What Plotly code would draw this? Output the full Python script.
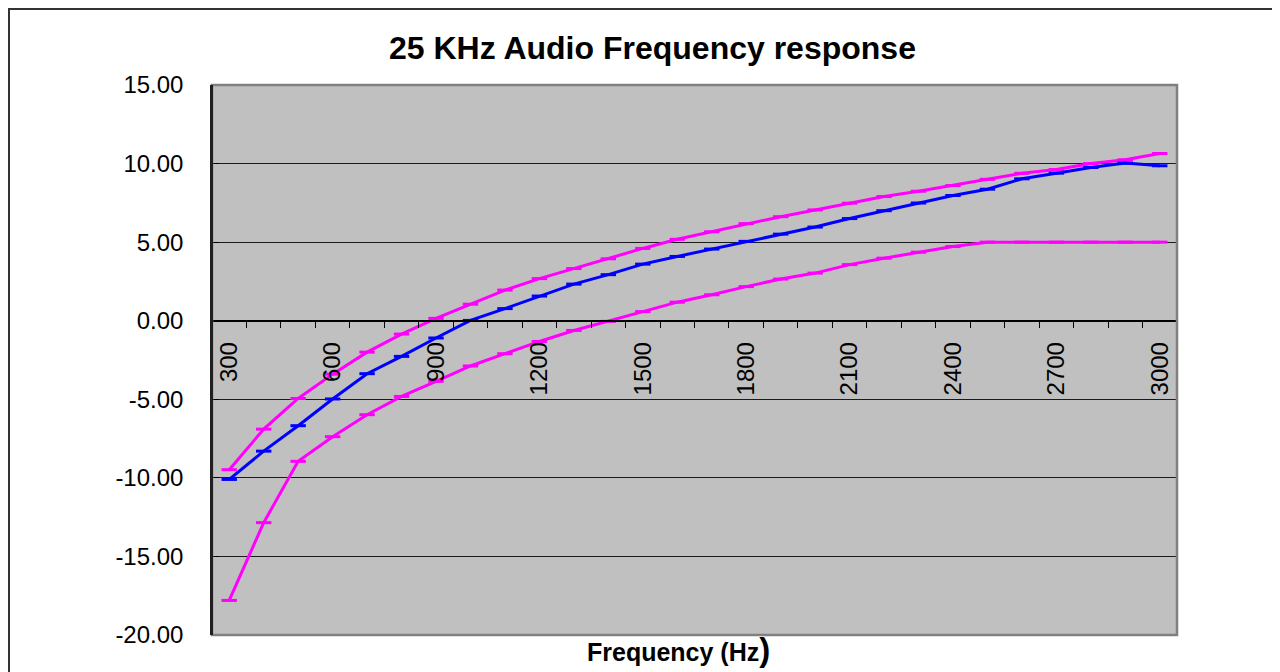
import plotly.graph_objects as go

freq = list(range(300, 3001, 100))

upper_limit = [-9.48, -6.90, -4.95, -3.40, -2.00, -0.85, 0.15, 1.05, 1.95, 2.68,
               3.32, 3.94, 4.60, 5.18, 5.66, 6.18, 6.62, 7.05, 7.48, 7.90,
               8.24, 8.60, 9.00, 9.38, 9.62, 10.00, 10.24, 10.64]

measured = [-10.10, -8.30, -6.68, -4.98, -3.37, -2.27, -1.10, 0.02, 0.77, 1.57,
            2.33, 2.93, 3.60, 4.09, 4.56, 5.05, 5.51, 5.96, 6.50, 7.00,
            7.49, 7.97, 8.37, 9.03, 9.39, 9.75, 10.03, 9.86]

lower_limit = [-17.80, -12.85, -8.95, -7.38, -5.98, -4.82, -3.86, -2.88, -2.10, -1.32,
               -0.62, -0.04, 0.58, 1.18, 1.65, 2.17, 2.65, 3.03, 3.57, 3.98,
               4.36, 4.72, 5.00, 5.00, 5.00, 5.00, 5.00, 5.00]

x_tick_values = list(range(300, 3001, 300))
x_tick_labels = [str(v) for v in x_tick_values]
y_tick_values = [15, 10, 5, 0, -5, -10, -15, -20]
y_tick_labels = ["15.00", "10.00", "5.00", "0.00", "-5.00", "-10.00", "-15.00", "-20.00"]

W, H = 1280, 672
OFF = 8  # page offset of the figure inside the browser page
L, T = 212 - OFF, 85 - OFF
R = W - (1177 - OFF)
B = H - (635 - OFF)
pw, ph = W - L - R, H - T - B
y_min, y_max = -20, 15
FONT = "Arial, Liberation Sans, sans-serif"

def px_x(page_x):
    return (page_x - OFF - L) / pw

def px_y(page_y):
    return (H - B - (page_y - OFF)) / ph

fig = go.Figure()

def add_series(y, color):
    fig.add_trace(go.Scatter(
        x=freq, y=y, mode="lines+markers",
        line=dict(color=color, width=3),
        marker=dict(symbol="line-ew", size=11, line=dict(color=color, width=3), color=color),
        showlegend=False, hoverinfo="x+y",
    ))

add_series(upper_limit, "#FF00FF")
add_series(lower_limit, "#FF00FF")
add_series(measured, "#0000FF")

fig.update_layout(
    width=W, height=H,
    margin=dict(l=L, r=R, t=T, b=B),
    paper_bgcolor="white",
    plot_bgcolor="#C0C0C0",
    font=dict(family=FONT, color="black"),
    showlegend=False,
)

fig.update_yaxes(
    range=[y_min, y_max],
    tickvals=y_tick_values, ticktext=y_tick_labels,
    showgrid=True, gridcolor="#1a1a1a", gridwidth=1,
    showline=True, linecolor="#000000", linewidth=1.5,
    ticks="inside", ticklen=7, tickcolor="#000000",
    ticklabelstandoff=22,
    tickfont=dict(size=24, family=FONT, color="black"),
    zeroline=False,
)

fig.update_xaxes(
    range=[250, 3050], anchor="free", position=(0 - y_min) / (y_max - y_min),
    showgrid=False, zeroline=False,
    showline=True, linecolor="#000000", linewidth=1.5,
    tickvals=x_tick_values, ticktext=x_tick_labels,
    ticks="", tickangle=-90, ticklabelstandoff=11,
    tickfont=dict(size=24, family=FONT, color="black"),
    minor=dict(ticks="outside", tick0=250, dtick=100, ticklen=7, tickcolor="#000000", tickwidth=1, showgrid=False),
)

# plot area border
fig.add_shape(type="rect", xref="paper", yref="paper", x0=0, x1=1, y0=0, y1=1,
              line=dict(color="#808080", width=2.5), layer="above")
fig.add_shape(type="line", xref="paper", yref="paper", x0=0, x1=0, y0=0, y1=1,
              line=dict(color="#000000", width=1.5), layer="above")
# outer chart border
fig.add_shape(type="rect", xref="paper", yref="paper",
              x0=px_x(9), x1=px_x(1273),
              y0=px_y(720), y1=px_y(9),
              line=dict(color="#333333", width=2), layer="above")

fig.add_annotation(text="<b>25 KHz Audio Frequency response</b>", xref="paper", yref="paper",
                   x=px_x(652), y=px_y(48), showarrow=False,
                   font=dict(size=32, family=FONT, color="black"),
                   xanchor="center", yanchor="middle")
fig.add_annotation(text="<b>Frequency (Hz</b><b><span style='font-size:33px'>)</span></b>",
                   xref="paper", yref="paper",
                   x=px_x(678), y=px_y(649), showarrow=False,
                   font=dict(size=25, family=FONT, color="black"),
                   xanchor="center", yanchor="middle")

fig.write_html("out.html")
